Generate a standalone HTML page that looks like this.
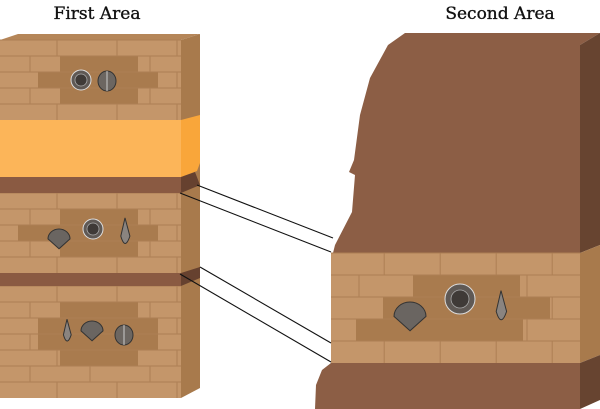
<!DOCTYPE html>
<html><head><meta charset="utf-8"><style>
html,body{margin:0;padding:0;background:#fff;width:600px;height:409px;overflow:hidden}
svg{display:block}
text{font-family:"DejaVu Serif","Liberation Serif",serif;font-size:17px;fill:#111;stroke:#111;stroke-width:0.35}
</style></head><body>
<svg width="600" height="409" viewBox="0 0 600 409">
<text x="97" y="19" text-anchor="middle">First Area</text>
<text x="500" y="19" text-anchor="middle">Second Area</text>

<g>
  <polygon points="0,40 18,34 200,34 181,40" fill="#b58659"/>
  <rect x="0" y="40" width="181" height="358" fill="#c4966a"/>
  <polygon points="181,40 200,34 200,388 181,398" fill="#a87a4c"/>
  <g id="bricksL" stroke="#ad7f54" stroke-width="1"></g>
  <rect x="0" y="120" width="181" height="57" fill="#fcb559"/>
  <polygon points="181,120 200,115 200,163 197,171 181,177" fill="#f9a63a"/>
  <rect x="0" y="177" width="181" height="16" fill="#8a5a42"/>
  <polygon points="181,177 195,172 200,185 181,193" fill="#66412f"/>
  <rect x="0" y="273" width="181" height="13" fill="#8a5a42"/>
  <polygon points="181,273 200,267 200,278 181,286" fill="#66412f"/>
</g>

<g>
  <polygon points="405,33 600,33 580,45 580,253 333,253 335,245 352,212 355,175 349,172 354,160 360,115 370,78 388,45" fill="#8c5e45"/>
  <polygon points="580,45 600,33 600,245 580,253" fill="#674430"/>
  <rect x="331" y="253" width="249" height="110" fill="#c4966a"/>
  <polygon points="580,253 600,245 600,355 580,363" fill="#a87a4c"/>
  <g id="bricksR" stroke="#ad7f54" stroke-width="1"></g>
  <polygon points="331,363 580,363 580,409 315,409 316,385 322,370" fill="#8c5e45"/>
  <polygon points="580,363 600,355 600,400 580,409" fill="#674430"/>
</g>

<g stroke="#111" stroke-width="1.1">
  <line x1="197" y1="185" x2="333" y2="238"/>
  <line x1="180" y1="193" x2="331" y2="252"/>
  <line x1="200" y1="267" x2="331" y2="343"/>
  <line x1="180" y1="274" x2="331" y2="362"/>
</g>
<g id="fossils"></g>
</svg>
<script>
const NS="http://www.w3.org/2000/svg";
function el(tag,attrs,parent){const e=document.createElementNS(NS,tag);for(const k in attrs)e.setAttribute(k,attrs[k]);parent.appendChild(e);return e;}
function bricks(g,x0,x1,ys,h,w,panel){
  panel.forEach(p=>{const r=el('rect',{x:p[0],y:p[1],width:p[2],height:p[3],fill:'#a97b4e',stroke:'none'},g);
    
    });
  ys.forEach((y,i)=>{
    el('line',{x1:x0,y1:y,x2:x1,y2:y},g);
    const off=(i%2)?w/2:0;
    for(let x=x0+off+ (i%2?0:w*0.95);x<x1;x+=w){
      const inPanel=panel.some(p=>x>p[0]&&x<p[0]+p[2]&&y>=p[1]&&y<p[1]+p[3]);
      if(!inPanel) el('line',{x1:x,y1:y,x2:x,y2:y+h},g);
    }
  });
}
const gL=document.getElementById('bricksL');
bricks(gL,0,181,[40,56,72,88,104],16,60,[[60,56,78,48],[38,72,120,16]]);
bricks(gL,0,181,[193,209,225,241,257],16,60,[[60,209,78,48],[18,225,140,16]]);
bricks(gL,0,181,[286,302,318,334,350,366,382],16,60,[[60,302,78,64],[38,318,120,32]]);
const gR=document.getElementById('bricksR');
bricks(gR,331,580,[253,275,297,319,341],22,56,[[413,275,107,66],[383,297,167,22],[356,319,167,22]]);
const F=document.getElementById('fossils');
const fossils=[['ammonite',81,80,10],['brachiopod',107,81,10],['scallop',59,240,11],['ammonite',93,229,10],['snail',125,234,7],['snail',67,333,6],['scallop',92,332,11],['brachiopod',124,335,10],['scallop',410,318,16],['ammonite',460,299,15],['snail',501,309,8]];
fossils.forEach(f=>{
  const [t,x,y,r]=f;const g=el('g',{},F);
  
  
  if(t==='ammonite'){el('circle',{cx:x,cy:y,r:r,fill:'#5f5955',stroke:'#ddd','stroke-width':1},g);el('circle',{cx:x,cy:y,r:r*0.6,fill:'#3f3a37',stroke:'#aaa','stroke-width':0.8},g);}
  else if(t==='brachiopod'){el('ellipse',{cx:x,cy:y,rx:r*0.9,ry:r,fill:'#6c6661',stroke:'#333','stroke-width':1},g);el('line',{x1:x,y1:y-r,x2:x,y2:y+r,stroke:'#ccc','stroke-width':1},g);}
  else if(t==='scallop'){el('path',{d:`M${x} ${y+r*0.8} L${x-r} ${y-r*0.1} A${r} ${r*0.9} 0 0 1 ${x+r} ${y-r*0.1} Z`,fill:'#6a6561',stroke:'#333','stroke-width':1},g);}
  else {el('path',{d:`M${x} ${y-r*2.3} L${x+r*0.7} ${y+r*0.3} Q${x} ${y+r*2.4} ${x-r*0.6} ${y+r*0.3} Z`,fill:'#8a8480',stroke:'#333','stroke-width':1},g);}
});
</script>
</body></html>
